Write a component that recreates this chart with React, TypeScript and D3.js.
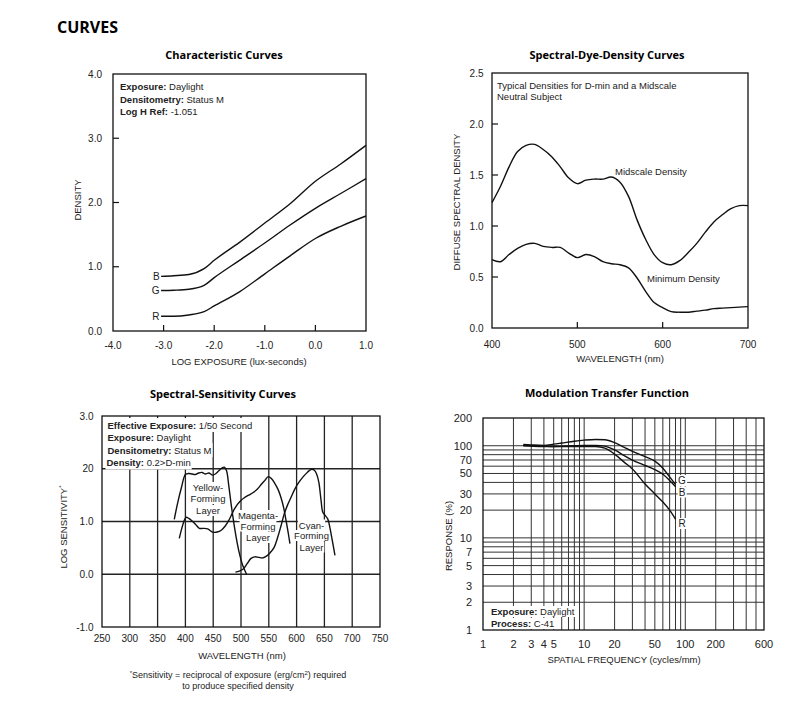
import React, { useRef, useEffect } from 'react';
import * as d3 from 'd3';

const SANS = '"Liberation Sans", Arial, sans-serif';
const HEAD = '"Open Sans", sans-serif';
const INK = '#111';

// Characteristic curves
const logExposure = [-3.05, -2.8, -2.5, -2.2, -2.0, -1.5, -1.0, -0.5, 0, 0.5, 1.0];
const densityB = [0.85, 0.86, 0.88, 0.97, 1.1, 1.38, 1.68, 1.98, 2.33, 2.6, 2.89];
const densityG = [0.63, 0.635, 0.65, 0.71, 0.83, 1.1, 1.37, 1.65, 1.91, 2.14, 2.37];
const densityR = [0.23, 0.23, 0.25, 0.3, 0.39, 0.61, 0.89, 1.17, 1.44, 1.63, 1.79];
const charXTicks = [-4, -3, -2, -1, 0, 1];
const charYTicks = [0, 1, 2, 3, 4];

// Spectral dye density
const dyeWavelength = [400, 410, 420, 430, 440, 450, 460, 470, 480, 490, 500, 510, 520, 530, 540, 550, 560, 570, 580, 590, 600, 610, 620, 630, 640, 650, 660, 670, 680, 690, 700];
const midscaleDensity = [1.23, 1.39, 1.58, 1.73, 1.79, 1.8, 1.75, 1.68, 1.58, 1.47, 1.415, 1.45, 1.46, 1.46, 1.48, 1.43, 1.29, 1.06, 0.87, 0.72, 0.64, 0.62, 0.66, 0.74, 0.83, 0.94, 1.04, 1.11, 1.17, 1.2, 1.2];
const minimumDensity = [0.67, 0.65, 0.72, 0.78, 0.82, 0.83, 0.8, 0.79, 0.79, 0.735, 0.69, 0.72, 0.7, 0.65, 0.63, 0.62, 0.59, 0.49, 0.36, 0.25, 0.2, 0.16, 0.155, 0.155, 0.165, 0.175, 0.19, 0.195, 0.2, 0.205, 0.21];
const dyeXTicks = [400, 500, 600, 700];
const dyeYTicks = [0, 0.5, 1.0, 1.5, 2.0, 2.5];

// Spectral sensitivity
const yellowNm = [380, 386, 393, 400, 406, 412, 418, 424, 430, 436, 442, 449, 455, 460, 465, 470, 474, 478, 482, 486, 491, 497, 503, 510];
const yellowSens = [1.04, 1.35, 1.65, 1.89, 1.91, 1.9, 1.89, 1.92, 1.93, 1.9, 1.92, 1.88, 1.91, 1.96, 2.01, 2.03, 1.96, 1.68, 1.35, 1.05, 0.72, 0.4, 0.17, 0.0];
const magentaNm = [389, 393, 397, 401, 406, 412, 418, 425, 432, 440, 449, 457, 465, 472, 478, 484, 490, 498, 506, 514, 522, 530, 537, 543, 549, 555, 561, 567, 572, 577, 581, 585, 588];
const magentaSens = [0.68, 0.85, 0.99, 1.08, 1.06, 1.01, 0.95, 0.87, 0.87, 0.86, 0.8, 0.8, 0.84, 0.92, 1.02, 1.15, 1.27, 1.38, 1.45, 1.5, 1.55, 1.62, 1.71, 1.78, 1.85, 1.81, 1.72, 1.6, 1.45, 1.25, 1.02, 0.78, 0.58];
const cyanNm = [490, 497, 504, 511, 518, 525, 532, 539, 545, 550, 555, 560, 566, 572, 578, 584, 590, 597, 604, 612, 620, 627, 632, 636, 640, 644, 647, 651, 656, 660, 664, 669];
const cyanSens = [0.04, 0.06, 0.1, 0.2, 0.3, 0.33, 0.32, 0.31, 0.34, 0.38, 0.44, 0.52, 0.7, 0.92, 1.15, 1.32, 1.46, 1.62, 1.74, 1.85, 1.94, 1.99, 1.97, 1.9, 1.74, 1.4, 1.18, 1.12, 1.05, 0.88, 0.65, 0.36];
const sensXTicks = [250, 300, 350, 400, 450, 500, 550, 600, 650, 700, 750];
const sensYTicks = [-1, 0, 1, 2, 3];
const sensYLabels = ['-1.0', '0.0', '1.0', '20', '3.0'];

// Modulation transfer function
const mtfFreq = [2.5, 3, 4, 5, 6, 8, 10, 13, 16, 20, 25, 30, 40, 50, 60, 70, 80];
const mtfG = [103, 102, 101, 104, 107, 112, 115, 117, 116, 108, 96, 87, 76, 68, 57, 46, 38];
const mtfB = [100, 99, 98, 98, 98.5, 100, 101, 101, 99, 90, 78, 70, 61, 55, 49, 42, 36];
const mtfR = [101, 100, 99, 98, 98, 98, 98, 98, 94, 81, 66, 56, 38.5, 30, 24.5, 20, 16];
const mtfXTicks = [1, 2, 3, 4, 5, 10, 20, 50, 100, 200, 600];
const mtfYTicks = [1, 2, 3, 5, 7, 10, 20, 30, 50, 70, 100, 200];
const mtfXGrid = [2, 3, 4, 5, 6, 7, 8, 9, 10, 20, 30, 40, 50, 60, 70, 80, 90, 100, 200, 300, 400, 500];
const mtfYGrid = [2, 3, 4, 5, 6, 7, 8, 9, 10, 20, 30, 40, 50, 60, 70, 80, 90, 100];

type Part = [string, boolean];
type G = d3.Selection<SVGGElement, unknown, null, undefined>;

function txt(g: G, x: number, y: number, parts: Part[], o: any = {}) {
  const t = g.append('text')
    .attr('x', x)
    .attr('y', y)
    .attr('font-family', o.family || SANS)
    .attr('font-size', o.size || 9.5)
    .attr('font-weight', o.weight || 'normal')
    .attr('fill', o.fill || '#222')
    .attr('text-anchor', o.anchor || 'start')
    .style('white-space', 'pre');
  if (o.rotate) t.attr('transform', `rotate(-90, ${x}, ${y})`);
  parts.forEach(([s, b]) => t.append('tspan').attr('font-weight', b ? 'bold' : null).text(s));
  if (o.bg) {
    const bb = (t.node() as SVGTextElement).getBBox();
    const pad = o.pad || 0;
    g.insert('rect', () => t.node())
      .attr('x', bb.x - 1).attr('y', bb.y - pad)
      .attr('width', bb.width + 2).attr('height', bb.height + 2 * pad)
      .attr('fill', '#fff');
  }
  return t;
}

function curve(g: G, xs: number[], ys: number[], sx: any, sy: any, c: any = d3.curveMonotoneX) {
  const pts = xs.map((x, i) => [x, ys[i]] as [number, number]);
  g.append('path')
    .datum(pts)
    .attr('d', d3.line<[number, number]>().x(d => sx(d[0])).y(d => sy(d[1])).curve(c))
    .attr('fill', 'none')
    .attr('stroke', INK)
    .attr('stroke-width', 1.4);
}

function frame(g: G, sx: any, sy: any) {
  const [x0, x1] = sx.range();
  const [y0, y1] = sy.range();
  g.append('rect')
    .attr('x', x0).attr('y', y1)
    .attr('width', x1 - x0).attr('height', y0 - y1)
    .attr('fill', 'none').attr('stroke', INK).attr('stroke-width', 1.3);
}

export default function App() {
  const svgRef = useRef<SVGSVGElement>(null);

  useEffect(() => {
    const svg = d3.select(svgRef.current);
    svg.selectAll('*').remove();
    const root = svg.append('g') as unknown as G;

    txt(root, 57, 33, [['CURVES', true]], { family: HEAD, size: 16, fill: '#000' });

    // ---- Characteristic curves
    {
      const g = root.append('g') as unknown as G;
      const x = d3.scaleLinear().domain([-4, 1]).range([113, 366]);
      const y = d3.scaleLinear().domain([0, 4]).range([331, 74]);
      txt(g, 224, 59, [['Characteristic Curves', true]], { family: HEAD, size: 11, anchor: 'middle', fill: '#000' });
      frame(g, x, y);
      [-3, -2, -1, 0].forEach(t => g.append('line').attr('x1', x(t)).attr('x2', x(t)).attr('y1', y(0)).attr('y2', y(0) - 6).attr('stroke', INK).attr('stroke-width', 1.2));
      [1, 2, 3].forEach(t => g.append('line').attr('x1', x(-4)).attr('x2', x(-4) + 6).attr('y1', y(t)).attr('y2', y(t)).attr('stroke', INK).attr('stroke-width', 1.2));
      charYTicks.forEach(t => txt(g, 102, y(t) + 3.5, [[t.toFixed(1), false]], { size: 10, anchor: 'end' }));
      charXTicks.forEach(t => txt(g, x(t), 349, [[t.toFixed(1), false]], { size: 10, anchor: 'middle' }));
      txt(g, 239, 365, [['LOG EXPOSURE (lux-seconds)', false]], { anchor: 'middle' });
      txt(g, 81, 200, [['DENSITY', false]], { anchor: 'middle', rotate: true });
      txt(g, 120, 90, [['Exposure: ', true], ['Daylight', false]]);
      txt(g, 120, 102.5, [['Densitometry: ', true], ['Status M', false]]);
      txt(g, 120, 114.5, [['Log H Ref: ', true], ['-1.051', false]]);
      curve(g, logExposure, densityB, x, y);
      curve(g, logExposure, densityG, x, y);
      curve(g, logExposure, densityR, x, y);
      [['B', densityB], ['G', densityG], ['R', densityR]].forEach(([l, d]: any) =>
        txt(g, x(logExposure[0]) - 1.5, y(d[0]) + 3.5, [[l, false]], { size: 10, anchor: 'end' }));
    }

    // ---- Spectral dye density
    {
      const g = root.append('g') as unknown as G;
      const x = d3.scaleLinear().domain([400, 700]).range([492, 748]);
      const y = d3.scaleLinear().domain([0, 2.5]).range([328, 73]);
      txt(g, 607, 58.5, [['Spectral-Dye-Density Curves', true]], { family: HEAD, size: 11, anchor: 'middle', fill: '#000' });
      frame(g, x, y);
      [500, 600].forEach(t => g.append('line').attr('x1', x(t)).attr('x2', x(t)).attr('y1', y(0)).attr('y2', y(0) - 6).attr('stroke', INK).attr('stroke-width', 1.2));
      [0.5, 1, 1.5, 2].forEach(t => g.append('line').attr('x1', x(400)).attr('x2', x(400) + 6).attr('y1', y(t)).attr('y2', y(t)).attr('stroke', INK).attr('stroke-width', 1.2));
      dyeYTicks.forEach(t => txt(g, 483.5, y(t) + 3.5, [[t.toFixed(1), false]], { size: 10, anchor: 'end' }));
      dyeXTicks.forEach(t => txt(g, x(t), 347.5, [[String(t), false]], { size: 10, anchor: 'middle' }));
      txt(g, 620, 361.5, [['WAVELENGTH (nm)', false]], { anchor: 'middle' });
      txt(g, 460, 202, [['DIFFUSE SPECTRAL DENSITY', false]], { anchor: 'middle', rotate: true });
      txt(g, 497, 88.5, [['Typical Densities for D-min and a Midscale', false]]);
      txt(g, 497, 100, [['Neutral Subject', false]]);
      curve(g, dyeWavelength, midscaleDensity, x, y, d3.curveCatmullRom);
      curve(g, dyeWavelength, minimumDensity, x, y, d3.curveCatmullRom);
      txt(g, 615, 175, [['Midscale Density', false]]);
      txt(g, 647, 281.5, [['Minimum Density', false]]);
    }

    // ---- Spectral sensitivity
    {
      const g = root.append('g') as unknown as G;
      const x = d3.scaleLinear().domain([250, 750]).range([102, 380]);
      const y = d3.scaleLinear().domain([-1, 3]).range([627, 416]);
      txt(g, 223, 398, [['Spectral-Sensitivity Curves', true]], { family: HEAD, size: 11, anchor: 'middle', fill: '#000' });
      d3.range(300, 701, 50).forEach(t => g.append('line').attr('x1', x(t)).attr('x2', x(t)).attr('y1', y(3)).attr('y2', y(-1)).attr('stroke', '#222').attr('stroke-width', 1.3));
      [0, 1, 2].forEach(t => g.append('line').attr('x1', x(250)).attr('x2', x(750)).attr('y1', y(t)).attr('y2', y(t)).attr('stroke', '#222').attr('stroke-width', 1.3));
      frame(g, x, y);
      sensYTicks.forEach((t, i) => txt(g, 93.5, y(t) + 3.5, [[sensYLabels[i], false]], { size: 10, anchor: 'end' }));
      sensXTicks.forEach(t => txt(g, x(t), 642, [[String(t), false]], { size: 10, anchor: 'middle' }));
      txt(g, 242, 659, [['WAVELENGTH (nm)', false]], { anchor: 'middle' });
      const yl = txt(g, 67, 527, [['LOG SENSITIVITY', false]], { anchor: 'middle', rotate: true });
      yl.append('tspan').attr('font-size', 6).attr('dy', -4).text('*');
      const fn = txt(g, 238, 677.5, [], { size: 9, anchor: 'middle' });
      fn.append('tspan').attr('font-size', 6).attr('dy', -3).text('*');
      fn.append('tspan').attr('dy', 3).text('Sensitivity = reciprocal of exposure (erg/cm');
      fn.append('tspan').attr('font-size', 6).attr('dy', -3).text('2');
      fn.append('tspan').attr('dy', 3).text(') required');
      txt(g, 238, 688.5, [['to produce specified density', false]], { size: 9, anchor: 'middle' });
      txt(g, 107.5, 428.5, [['Effective Exposure: ', true], ['1/50 Second', false]], { bg: true, pad: 1.5 });
      txt(g, 107.5, 441, [['Exposure: ', true], ['Daylight', false]], { bg: true, pad: 1.5 });
      txt(g, 107.5, 453.5, [['Densitometry: ', true], ['Status M', false]], { bg: true, pad: 1.5 });
      txt(g, 106.5, 466, [['Density: ', true], ['0.2>D-min', false]], { bg: true, pad: 1.5 });
      [['Yellow-', 491], ['Forming', 502], ['Layer', 514]].forEach(([s, yy]: any) => txt(g, 208, yy, [[s, false]], { anchor: 'middle', bg: true }));
      [['Magenta-', 519], ['Forming', 529.5], ['Layer', 541]].forEach(([s, yy]: any) => txt(g, 258, yy, [[s, false]], { anchor: 'middle', bg: true }));
      [['Cyan-', 528.5], ['Forming', 539], ['Layer', 550.5]].forEach(([s, yy]: any) => txt(g, 311.5, yy, [[s, false]], { anchor: 'middle', bg: true }));
      curve(g, yellowNm, yellowSens, x, y, d3.curveCatmullRom);
      curve(g, magentaNm, magentaSens, x, y, d3.curveCatmullRom);
      curve(g, cyanNm, cyanSens, x, y, d3.curveCatmullRom);
    }

    // ---- MTF
    {
      const g = root.append('g') as unknown as G;
      const x = d3.scaleLog().domain([1, 600]).range([483, 764]);
      const y = d3.scaleLog().domain([1, 200]).range([630, 418]);
      txt(g, 607, 396.5, [['Modulation Transfer Function', true]], { family: HEAD, size: 11, anchor: 'middle', fill: '#000' });
      mtfXGrid.forEach(t => g.append('line').attr('x1', x(t)).attr('x2', x(t)).attr('y1', y(200)).attr('y2', y(1)).attr('stroke', '#333').attr('stroke-width', 1));
      mtfYGrid.forEach(t => g.append('line').attr('x1', x(1)).attr('x2', x(600)).attr('y1', y(t)).attr('y2', y(t)).attr('stroke', '#333').attr('stroke-width', 1));
      frame(g, x, y);
      mtfYTicks.forEach(t => txt(g, 472, y(t) + 4, [[String(t), false]], { size: 11, anchor: 'end' }));
      mtfXTicks.forEach(t => txt(g, x(t), 648, [[String(t), false]], { size: 11, anchor: 'middle' }));
      txt(g, 624, 662.5, [['SPATIAL FREQUENCY (cycles/mm)', false]], { anchor: 'middle' });
      txt(g, 452, 536, [['RESPONSE (%)', false]], { anchor: 'middle', rotate: true });
      txt(g, 491, 615, [['Exposure: ', true], ['Daylight', false]], { bg: true });
      txt(g, 491, 627, [['Process: ', true], ['C-41', false]], { bg: true });
      curve(g, mtfFreq, mtfG, x, y);
      curve(g, mtfFreq, mtfB, x, y);
      curve(g, mtfFreq, mtfR, x, y);
      [['G', 484], ['B', 495.5], ['R', 527]].forEach(([l, yy]: any) => txt(g, 682, yy, [[l, false]], { size: 10, anchor: 'middle', bg: true }));
    }
  }, []);

  return (
    <div style={{ position: 'absolute', left: 0, top: 0, background: '#fff' }}>
      <svg ref={svgRef} width={800} height={715} />
    </div>
  );
}
